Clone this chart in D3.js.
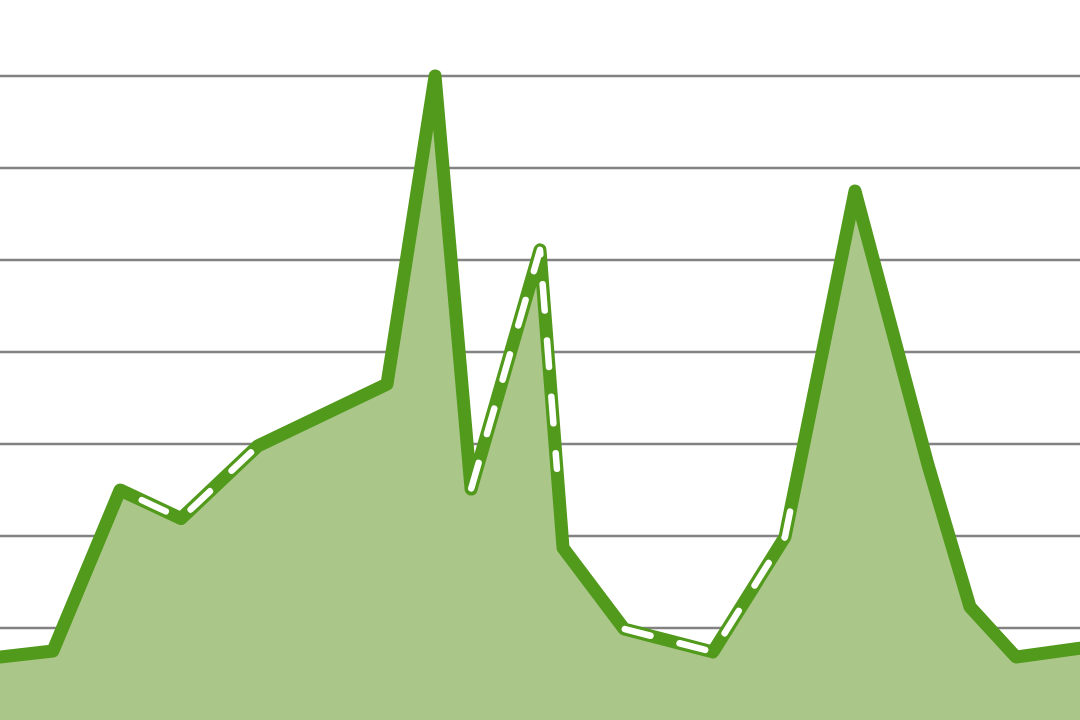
<!DOCTYPE html>
<html>
<head>
<meta charset="utf-8">
<script src="https://cdn.jsdelivr.net/npm/d3@7"></script>
<style>
  html, body { margin: 0; padding: 0; background: #ffffff; }
  svg { display: block; }
</style>
</head>
<body>
<svg id="chart" width="1080" height="720"></svg>
<script>
// ---- data ----
const xValues = [0, 2.94, 6.67, 10.06, 14.33, 21.5, 24.17, 26.17, 30, 31.28, 34.67, 39.61, 43.61, 47.5, 51.56, 53.89, 56.44, 60];
const yValues = [6.85, 7.5, 25.0, 21.9, 29.8, 36.5, 70, 25.1, 51.1, 18.7, 9.9, 7.4, 19.9, 57.5, 27.7, 12.3, 6.85, 7.8];
const gridTicks = [10, 20, 30, 40, 50, 60, 70];
// dashed zones along the x axis: start, end
const zoneStarts = [6.67, 26.17, 34.67];
const zoneEnds = [14.33, 30.94, 44.0];
const zoneDashOffsets = [32.5, -0.8, -0.8];

// ---- layout ----
const W = 1080, H = 720;
const svg = d3.select("#chart");
const x = d3.scaleLinear().domain([0, 60]).range([0, W]);
const y = d3.scaleLinear().domain([0, 70]).range([H, 76]);

const data = xValues.map((v, i) => ({ x: v, y: yValues[i] }));

// grid
svg.append("g")
  .selectAll("line")
  .data(gridTicks)
  .join("line")
  .attr("x1", 0).attr("x2", W)
  .attr("y1", d => y(d)).attr("y2", d => y(d))
  .attr("stroke", "#828282")
  .attr("stroke-width", 2.5);

// area
const area = d3.area().x(d => x(d.x)).y0(y(0)).y1(d => y(d.y));
svg.append("path")
  .datum(data)
  .attr("d", area)
  .attr("fill", "#aac789");

// line
const line = d3.line().x(d => x(d.x)).y(d => y(d.y));
svg.append("path")
  .datum(data)
  .attr("d", line)
  .attr("fill", "none")
  .attr("stroke", "#529a1c")
  .attr("stroke-width", 13)
  .attr("stroke-linejoin", "round")
  .attr("stroke-linecap", "round");

// dashed zones: cut the polyline between the zone's x limits
function interp(a, b, xv) {
  const t = (xv - a.x) / (b.x - a.x);
  return { x: xv, y: a.y + t * (b.y - a.y) };
}
function slice(x0, x1) {
  const pts = [];
  for (let i = 0; i < data.length - 1; i++) {
    const a = data[i], b = data[i + 1];
    if (b.x < x0 || a.x > x1) continue;
    if (a.x >= x0 && a.x <= x1) pts.push(a);
    else if (a.x < x0) pts.push(interp(a, b, x0));
    if (b.x > x1) { pts.push(interp(a, b, x1)); break; }
  }
  const last = data[data.length - 1];
  if (last.x <= x1 && last.x >= x0 && pts[pts.length - 1] !== last) pts.push(last);
  return pts.filter((p, i) => i === 0 || p.x !== pts[i - 1].x || p.y !== pts[i - 1].y);
}

svg.append("g")
  .selectAll("path")
  .data(zoneStarts.map((s, i) => ({ pts: slice(s, zoneEnds[i]), off: zoneDashOffsets[i] })))
  .join("path")
  .attr("d", d => line(d.pts))
  .attr("fill", "none")
  .attr("stroke", "#ffffff")
  .attr("stroke-width", 6.5)
  .attr("stroke-linecap", "round")
  .attr("stroke-linejoin", "round")
  .attr("stroke-dasharray", "26.5 30")
  .attr("stroke-dashoffset", d => d.off);
</script>
</body>
</html>
